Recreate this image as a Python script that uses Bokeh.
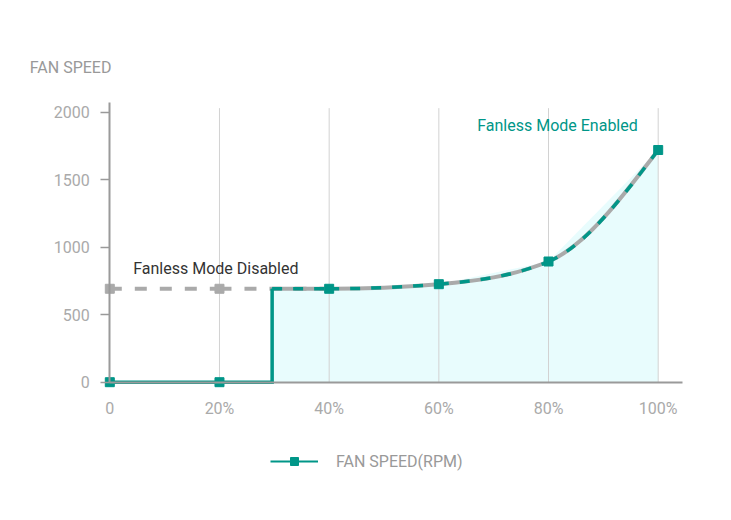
from bokeh.plotting import figure
from bokeh.models import (Range1d, LinearAxis, FixedTicker, Label, Legend,
                          LegendItem, ColumnDataSource)
from bokeh.embed import file_html
from bokeh.resources import INLINE

# ---------------- data ----------------
pct = [0, 20, 40, 60, 80, 100]
x_tick_labels = ["0", "20%", "40%", "60%", "80%", "100%"]
rpm_disabled = [692, 692, 692, 726, 894, 1720]
rpm_enabled = [0, 0, 692, 726, 894, 1720]
step_pct = 29.6
y_ticks = [0, 500, 1000, 1500, 2000]
y_title = "FAN SPEED"
series_name = "FAN SPEED(RPM)"
label_disabled = "Fanless Mode Disabled"
label_enabled = "Fanless Mode Enabled"

# ---------------- style / layout ----------------
TEAL = "#009688"
GRAY = "#aaaaaa"
AXIS = "#9a9a9a"
GRID = "#d2d2d2"
FONT = "Roboto"

W, H = 715, 504
ORIGIN_PX = (109.3, 381.7)      # canvas position of (0%, 0 rpm)
SX = 5.484                      # px per percent
SY = 0.135                      # px per rpm
X0 = -ORIGIN_PX[0] / SX
X1 = (W - ORIGIN_PX[0]) / SX
Y1 = ORIGIN_PX[1] / SY
Y0 = -(H - ORIGIN_PX[1]) / SY
GRID_TOP = 2030
Y_AXIS_TOP = 2074
X_AXIS_END = 104.4


def px2x(px):
    return X0 + px / SX


def px2y(py):
    return Y1 - py / SY


def monotone_segments(xs, ys):
    """Monotone cubic (monotone-x) curve as cubic Bezier segments."""
    n = len(xs)
    h = [xs[i + 1] - xs[i] for i in range(n - 1)]
    s = [(ys[i + 1] - ys[i]) / h[i] for i in range(n - 1)]
    m = [0.0] * n
    for i in range(1, n - 1):
        if s[i - 1] * s[i] <= 0:
            m[i] = 0.0
        else:
            pp = (s[i - 1] * h[i] + s[i] * h[i - 1]) / (h[i - 1] + h[i])
            sgn = 1 if s[i] > 0 else -1
            m[i] = 2 * sgn * min(abs(s[i - 1]), abs(s[i]), 0.5 * abs(pp))
    m[0] = (3 * s[0] - m[1]) / 2 if n > 2 else s[0]
    m[-1] = (3 * s[-1] - m[-2]) / 2 if n > 2 else s[-1]
    segs = []
    for i in range(n - 1):
        d = h[i] / 3
        segs.append(dict(x0=xs[i], y0=ys[i], cx0=xs[i] + d, cy0=ys[i] + m[i] * d,
                         cx1=xs[i + 1] - d, cy1=ys[i + 1] - m[i + 1] * d,
                         x1=xs[i + 1], y1=ys[i + 1]))
    return segs


def seg_source(segs):
    keys = ["x0", "y0", "cx0", "cy0", "cx1", "cy1", "x1", "y1"]
    return ColumnDataSource({k: [sg[k] for sg in segs] for k in keys})


# enabled curve (fan on) and step part (fan off)
on_idx = [i for i, v in enumerate(pct) if v > step_pct]
off_idx = [i for i, v in enumerate(pct) if v < step_pct]
curve_x = [step_pct] + [pct[i] for i in on_idx]
curve_y = [rpm_enabled[on_idx[0]]] + [rpm_enabled[i] for i in on_idx]
step_x = [pct[i] for i in off_idx] + [step_pct, step_pct]
step_y = [rpm_enabled[i] for i in off_idx] + [rpm_enabled[off_idx[-1]], curve_y[0]]

dis_segs = [sg for sg in monotone_segments(pct, rpm_disabled) if sg["x0"] < step_pct]
on_segs = monotone_segments(curve_x, curve_y)

p = figure(width=W, height=H, output_backend="svg", toolbar_location=None,
           x_range=Range1d(X0, X1), y_range=Range1d(Y0, Y1),
           x_axis_type=None, y_axis_type=None,
           min_border=0, min_border_left=0, min_border_right=0,
           min_border_top=0, min_border_bottom=0)
p.outline_line_color = None
p.background_fill_color = "white"
p.border_fill_color = "white"

# axes (placed at data zero, inside the frame)
yaxis = LinearAxis(fixed_location=0, bounds=(0, Y_AXIS_TOP), ticker=FixedTicker(ticks=y_ticks))
yaxis.axis_line_color = AXIS
yaxis.axis_line_width = 2
yaxis.major_tick_line_color = AXIS
yaxis.major_tick_line_width = 1.5
yaxis.major_tick_out = 9
yaxis.major_tick_in = 0
yaxis.minor_tick_line_color = None
yaxis.major_label_standoff = 11
yaxis.major_label_text_font = FONT
yaxis.major_label_text_font_size = "16px"
yaxis.major_label_text_color = "#aaaaaa"
p.add_layout(yaxis, "left")

xaxis = LinearAxis(fixed_location=0, bounds=(0, X_AXIS_END), ticker=FixedTicker(ticks=pct),
                   major_label_overrides={t: l for t, l in zip(pct, x_tick_labels)})
xaxis.axis_line_color = AXIS
xaxis.axis_line_width = 2
xaxis.major_tick_line_color = None
xaxis.minor_tick_line_color = None
xaxis.major_tick_out = 0
xaxis.major_tick_in = 0
xaxis.major_label_standoff = 17
xaxis.major_label_text_font = FONT
xaxis.major_label_text_font_size = "16px"
xaxis.major_label_text_color = "#aaaaaa"
p.add_layout(xaxis, "below")

# area fill under enabled curve
p.varea(x=curve_x, y1=[0] * len(curve_x), y2=curve_y, fill_color="#b8f6f9", fill_alpha=0.33)

# vertical grid lines
p.segment(x0=pct[1:], y0=[0] * (len(pct) - 1), x1=pct[1:], y1=[GRID_TOP] * (len(pct) - 1),
          line_color=GRID, line_width=1)

# disabled (gray dashed)
p.bezier(source=seg_source(dis_segs), x0="x0", y0="y0", x1="x1", y1="y1",
         cx0="cx0", cy0="cy0", cx1="cx1", cy1="cy1",
         line_color=GRAY, line_width=4, line_dash="12 13")
# gray under enabled curve
p.bezier(source=seg_source(on_segs), x0="x0", y0="y0", x1="x1", y1="y1",
         cx0="cx0", cy0="cy0", cx1="cx1", cy1="cy1",
         line_color=GRAY, line_width=4)
# thin teal line (used for the legend glyph; covered by the step line)
lg_line = p.line(step_x, step_y, line_color=TEAL, line_width=2)
# teal step (fan off)
p.line(step_x, step_y, line_color=TEAL, line_width=3.5, line_join="miter")
# teal dashed curve
p.bezier(source=seg_source(on_segs), x0="x0", y0="y0", x1="x1", y1="y1",
         cx0="cx0", cy0="cy0", cx1="cx1", cy1="cy1",
         line_color=TEAL, line_width=3.5, line_dash="10 11")

# markers
p.scatter(pct[:len(off_idx)], rpm_disabled[:len(off_idx)], marker="square", size=9,
          fill_color=GRAY, line_color=GRAY)
lg_mark = p.scatter(pct, rpm_enabled, marker="square", size=7, fill_color=TEAL, line_color=TEAL)
p.scatter(pct, rpm_enabled, marker="square", size=9, fill_color=TEAL, line_color=TEAL)

# texts
p.add_layout(Label(x=px2x(29.3), y=px2y(67.2), text=y_title, text_font=FONT,
                   text_font_size="16px", text_color="#999999", text_baseline="alphabetic"))
p.add_layout(Label(x=px2x(132.7), y=px2y(268.3), text=label_disabled, text_font=FONT,
                   text_font_size="16px", text_color="#333333", text_baseline="alphabetic"))
p.add_layout(Label(x=px2x(476.7), y=px2y(125.4), text=label_enabled, text_font=FONT,
                   text_font_size="16px", text_color=TEAL, text_baseline="alphabetic"))

# legend
legend = Legend(items=[LegendItem(label=series_name, renderers=[lg_line, lg_mark])],
                location=(270, 33), orientation="horizontal",
                glyph_width=48, glyph_height=20, label_standoff=18,
                padding=0, margin=0, spacing=0,
                border_line_color=None, background_fill_alpha=0,
                label_text_font=FONT, label_text_font_size="16px",
                label_text_color="#999999")
p.add_layout(legend, "center")

open("out.html", "w").write(file_html(p, INLINE))
